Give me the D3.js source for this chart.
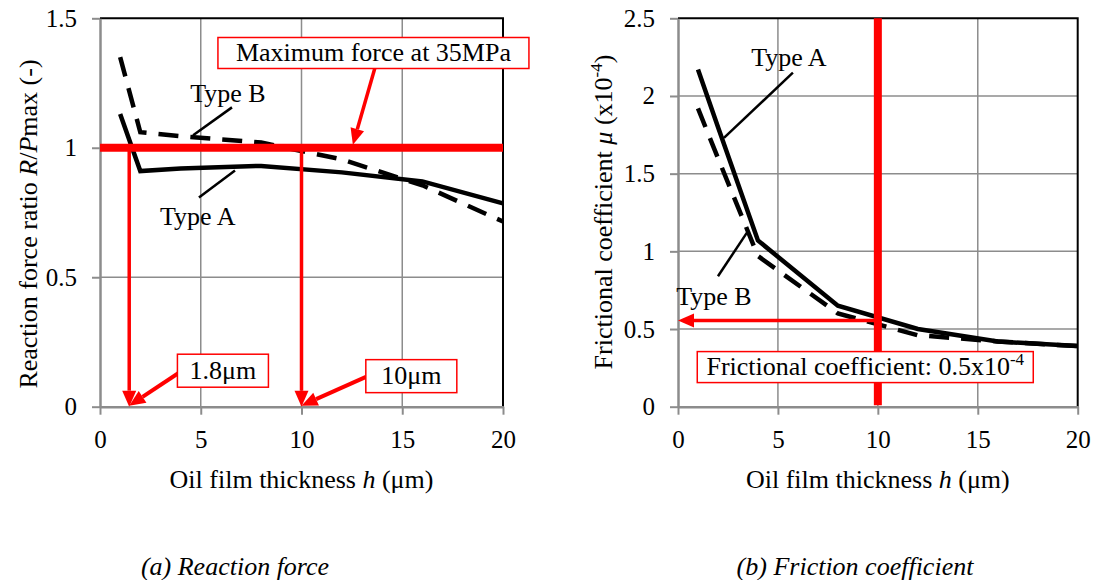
<!DOCTYPE html>
<html>
<head>
<meta charset="utf-8">
<script src="https://cdn.jsdelivr.net/npm/d3@7/dist/d3.min.js"></script>
<style>
  body { margin: 0; background: #fff; }
  svg text { font-family: "Liberation Serif", "Times New Roman", Times, "DejaVu Serif", serif !important; fill: #000; }
</style>
</head>
<body>
<svg id="chart" width="1096" height="580" font-family="Liberation Serif, Times New Roman, serif"></svg>
<script>
// oil film thickness h (um)
var hValues = [1, 2, 4, 8, 12, 16, 20];

// (a) reaction force ratio R/Pmax
var ratioTypeA = [1.13, 0.91, 0.92, 0.93, 0.905, 0.87, 0.785];
var ratioTypeB = [1.35, 1.06, 1.045, 1.02, 0.955, 0.855, 0.715];

// (b) frictional coefficient mu (x10^-4)
var muTypeA = [2.17, 1.80, 1.07, 0.65, 0.50, 0.42, 0.39];
var muTypeB = [1.92, 1.60, 0.97, 0.60, 0.46, 0.42, 0.39];

var xTicks = [0, 5, 10, 15, 20];
var ratioTicks = [0, 0.5, 1, 1.5];
var muTicks = [0, 0.5, 1, 1.5, 2, 2.5];

var svg = d3.select("#chart");
var grid = "#8c8c8c";
var red = "#ff0000";

function zip(xs, ys) {
    return xs.map(function(d, i) { return [d, ys[i]]; });
}

function arrow(g, x1, y1, x2, y2, w, headLen, headW) {
    var ang = Math.atan2(y2 - y1, x2 - x1);
    var bx = x2 - headLen * Math.cos(ang), by = y2 - headLen * Math.sin(ang);
    g.append("line").attr("x1", x1).attr("y1", y1).attr("x2", bx).attr("y2", by)
        .attr("stroke", red).attr("stroke-width", w);
    var px = -Math.sin(ang) * headW / 2, py = Math.cos(ang) * headW / 2;
    g.append("path")
        .attr("d", "M" + x2 + "," + y2 + "L" + (bx + px) + "," + (by + py) + "L" + (bx - px) + "," + (by - py) + "Z")
        .attr("fill", red);
}

function callout(g, cx, cy, w, h, build) {
    g.append("rect").attr("x", cx - w / 2).attr("y", cy - h / 2).attr("width", w).attr("height", h)
        .attr("fill", "#fff").attr("stroke", red).attr("stroke-width", 1.5);
    var t = g.append("text").attr("x", cx).attr("y", cy + 8).attr("text-anchor", "middle")
        .style("font-size", "26px");
    build(t);
}

function leader(g, x1, y1, x2, y2) {
    g.append("line").attr("x1", x1).attr("y1", y1).attr("x2", x2).attr("y2", y2)
        .attr("stroke", "#000").attr("stroke-width", 2.5);
}

function drawPanel(p) {
    var x = d3.scaleLinear().domain([0, 20]).range(p.xRange);
    var y = d3.scaleLinear().domain([0, p.yMax]).range([406.7, 18.3]);
    var g = svg.append("g");

    // gridlines
    g.selectAll(".hg").data(p.yTicks.filter(function(d) { return d > 0 && d < p.yMax; }))
        .enter().append("line")
        .attr("x1", x(0)).attr("x2", x(20)).attr("y1", function(d) { return y(d); }).attr("y2", function(d) { return y(d); })
        .attr("stroke", grid).attr("stroke-width", 1.5);
    g.selectAll(".vg").data(xTicks.filter(function(d) { return d > 0 && d < 20; }))
        .enter().append("line")
        .attr("x1", function(d) { return x(d); }).attr("x2", function(d) { return x(d); })
        .attr("y1", y(0)).attr("y2", y(p.yMax))
        .attr("stroke", grid).attr("stroke-width", 1.5);

    // border top / right
    g.append("path")
        .attr("d", "M" + x(0) + "," + y(p.yMax) + "H" + x(20) + "V" + y(0))
        .attr("fill", "none").attr("stroke", "#000").attr("stroke-width", 2);

    // axes
    var ya = g.append("g").attr("transform", "translate(" + x(0) + ",0)")
        .call(d3.axisLeft(y).tickValues(p.yTicks).tickSize(8).tickSizeOuter(0).tickPadding(15).tickFormat(String));
    var xa = g.append("g").attr("transform", "translate(0," + y(0) + ")")
        .call(d3.axisBottom(x).tickValues(xTicks).tickSize(8).tickSizeOuter(0).tickPadding(12).tickFormat(String));
    [ya, xa].forEach(function(a) {
        a.attr("font-family", null).attr("font-size", null);
        a.select(".domain").attr("stroke", grid).attr("stroke-width", 2.5);
        a.selectAll(".tick line").attr("stroke", grid).attr("stroke-width", 2);
        a.selectAll(".tick text").style("font-size", "25px").attr("fill", "#000");
    });
    xa.selectAll(".tick text").attr("y", 41).attr("dy", 0);

    // data lines
    var line = d3.line().x(function(d) { return x(d[0]); }).y(function(d) { return y(d[1]); });
    g.append("path").datum(zip(hValues, p.typeB)).attr("d", line)
        .attr("fill", "none").attr("stroke", "#000").attr("stroke-width", 4.5)
        .attr("stroke-dasharray", "20,12");
    g.append("path").datum(zip(hValues, p.typeA)).attr("d", line)
        .attr("fill", "none").attr("stroke", "#000").attr("stroke-width", 4.5)
        .attr("stroke-linejoin", "miter");

    // axis titles
    var yt = g.append("text")
        .attr("transform", "translate(" + p.yTitleX + "," + p.yTitleY + ") rotate(-90)")
        .attr("text-anchor", "middle").style("font-size", "26px");
    p.yTitle(yt);
    var xt = g.append("text").attr("x", (x(0) + x(20)) / 2).attr("y", 488)
        .attr("text-anchor", "middle").style("font-size", "26px");
    xt.append("tspan").text("Oil film thickness ");
    xt.append("tspan").style("font-style", "italic").text("h");
    xt.append("tspan").text(" (\u03bcm)");

    g.append("text").attr("x", p.captionX).attr("y", 575).attr("text-anchor", "middle")
        .style("font-size", "26px").style("font-style", "italic").text(p.caption);

    p.annotate(g, x, y);
}

drawPanel({
    xRange: [100, 503],
    yMax: 1.5,
    yTicks: ratioTicks,
    typeA: ratioTypeA,
    typeB: ratioTypeB,
    yTitleX: 37,
    yTitleY: 224,
    captionX: 235,
    caption: "(a) Reaction force",
    yTitle: function(t) {
        t.append("tspan").text("Reaction force ratio ");
        t.append("tspan").style("font-style", "italic").text("R");
        t.append("tspan").text("/");
        t.append("tspan").style("font-style", "italic").text("P");
        t.append("tspan").text("max (-)");
    },
    annotate: function(g, x, y) {
        var a = g.append("g");
        a.append("line").attr("x1", x(0)).attr("x2", x(20)).attr("y1", y(1)).attr("y2", y(1))
            .attr("stroke", red).attr("stroke-width", 8);
        arrow(a, x(1.45), y(1), x(1.45), y(0), 3.5, 16, 14);
        arrow(a, x(10), y(1), x(10), y(0), 3.5, 16, 14);
        arrow(a, x(13.65), y(1.31), x(12.55), y(1.012), 3.5, 16, 14);
        arrow(a, x(3.9), y(0.13), x(1.45), y(0.004), 4, 16, 14);
        arrow(a, x(13.2), y(0.115), x(10), y(0.004), 4, 16, 14);
        callout(a, x(13.57), y(1.366), 311, 31, function(t) { t.text("Maximum force at 35MPa"); });
        callout(a, x(6.1), y(0.139), 91, 33, function(t) { t.text("1.8\u03bcm"); });
        callout(a, x(15.45), y(0.118), 91, 33, function(t) { t.text("10\u03bcm"); });

        leader(g, x(6.55), y(1.156), x(4.62), y(1.048));
        g.append("text").attr("x", x(6.35)).attr("y", y(1.21) + 9).attr("text-anchor", "middle")
            .style("font-size", "26px").text("Type B");
        leader(g, x(4.91), y(0.808), x(6.7), y(0.912));
        g.append("text").attr("x", x(4.85)).attr("y", y(0.738) + 9).attr("text-anchor", "middle")
            .style("font-size", "26px").text("Type A");
    }
});

drawPanel({
    xRange: [678, 1077.7],
    yMax: 2.5,
    yTicks: muTicks,
    typeA: muTypeA,
    typeB: muTypeB,
    yTitleX: 612,
    yTitleY: 212,
    captionX: 855,
    caption: "(b) Friction coefficient",
    yTitle: function(t) {
        t.append("tspan").text("Frictional coefficient ");
        t.append("tspan").style("font-style", "italic").text("\u03bc");
        t.append("tspan").text(" (x10");
        t.append("tspan").attr("dy", -10).style("font-size", "17px").text("-4");
        t.append("tspan").attr("dy", 10).text(")");
    },
    annotate: function(g, x, y) {
        var a = g.append("g");
        a.append("line").attr("x1", x(10)).attr("x2", x(10)).attr("y1", y(2.5)).attr("y2", y(0.01))
            .attr("stroke", red).attr("stroke-width", 8);
        arrow(a, x(10), y(0.555), x(0), y(0.555), 3.5, 16, 14);
        callout(a, x(9.37), y(0.255), 336, 31, function(t) {
            t.append("tspan").text("Frictional coefficient: 0.5x10");
            t.append("tspan").attr("dy", -10).style("font-size", "17px").text("-4");
        });

        leader(g, x(5.75), y(2.15), x(2.3), y(1.73));
        g.append("text").attr("x", x(5.55)).attr("y", y(2.25) + 9).attr("text-anchor", "middle")
            .style("font-size", "26px").text("Type A");
        leader(g, x(2.0), y(0.84), x(3.5), y(1.13));
        g.append("text").attr("x", x(1.8)).attr("y", y(0.71) + 9).attr("text-anchor", "middle")
            .style("font-size", "26px").text("Type B");
    }
});
</script>
</body>
</html>
